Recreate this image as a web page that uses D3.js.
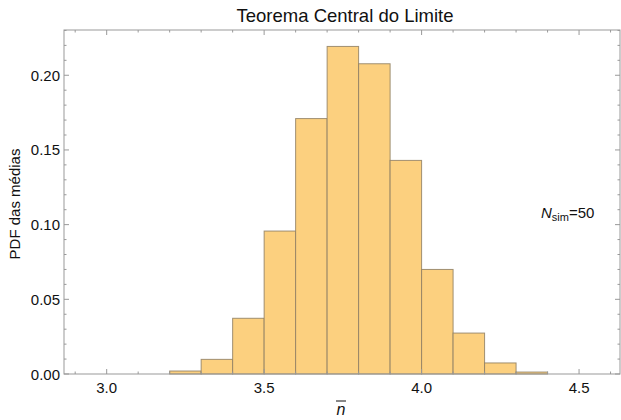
<!DOCTYPE html>
<html lang="en">
<head>
<meta charset="utf-8">
<title>Teorema Central do Limite</title>
<script src="https://cdn.jsdelivr.net/npm/d3@7"></script>
<style>
  body { margin: 0; background: #fff; }
  text { font-family: "Liberation Sans", Arial, sans-serif; fill: #111; }
</style>
</head>
<body>
<script>
// bin edges (left side), width 0.1
var binStart = [2.9, 3.0, 3.1, 3.2, 3.3, 3.4, 3.5, 3.6, 3.7, 3.8, 3.9, 4.0, 4.1, 4.2, 4.3, 4.4, 4.5];
var pdf = [0, 0, 0, 0.002, 0.0098, 0.0373, 0.0957, 0.171, 0.2193, 0.2077, 0.143, 0.070, 0.0274, 0.0074, 0.0013, 0, 0];
var binWidth = 0.1;
var xTicks = [3.0, 3.5, 4.0, 4.5];
var yTicks = [0, 0.05, 0.10, 0.15, 0.20];

var w = 621, h = 420;

drawChart();

function drawChart() {
  var mLeft = 64, mRight = 620, mTop = 30, mBottom = 374;

  var svg = d3.select("body").append("svg").attr("width", w).attr("height", h);

  var x = d3.scaleLinear().domain([2.8645, 4.63]).range([mLeft, mRight]);
  var y = d3.scaleLinear().domain([0, 0.2303]).range([mBottom, mTop]);

  // bars
  svg.selectAll("rect.bar").data(pdf).enter().append("rect")
    .attr("class", "bar")
    .attr("x", function(d, i) { return x(binStart[i]); })
    .attr("width", function(d, i) { return x(binStart[i] + binWidth) - x(binStart[i]); })
    .attr("y", function(d) { return y(d); })
    .attr("height", function(d) { return y(0) - y(d); })
    .attr("fill", "#fcd07f")
    .attr("stroke", "#8f7f63")
    .attr("stroke-opacity", 0.85)
    .attr("stroke-width", 1);

  // frame
  svg.append("rect")
    .attr("x", mLeft).attr("y", mTop)
    .attr("width", mRight - mLeft).attr("height", mBottom - mTop)
    .attr("fill", "none").attr("stroke", "#999").attr("stroke-width", 1);

  var tickColor = "#999";
  var xMinor = d3.range(29, 47).map(function(v) { return v / 10; });
  var yMinor = d3.range(0, 24).map(function(v) { return v / 100; });

  function isMajorX(v) { return Math.abs(v * 2 - Math.round(v * 2)) < 1e-6; }
  function isMajorY(v) { return Math.abs(v * 20 - Math.round(v * 20)) < 1e-6; }

  // x ticks (bottom and top, pointing in)
  xMinor.forEach(function(v) {
    var len = isMajorX(v) ? 5 : 2.5;
    svg.append("line").attr("x1", x(v)).attr("x2", x(v))
      .attr("y1", mBottom).attr("y2", mBottom - len).attr("stroke", tickColor);
    svg.append("line").attr("x1", x(v)).attr("x2", x(v))
      .attr("y1", mTop).attr("y2", mTop + len).attr("stroke", tickColor);
  });
  // y ticks (left and right)
  yMinor.forEach(function(v) {
    var len = isMajorY(v) ? 5 : 2.5;
    svg.append("line").attr("y1", y(v)).attr("y2", y(v))
      .attr("x1", mLeft).attr("x2", mLeft + len).attr("stroke", tickColor);
    svg.append("line").attr("y1", y(v)).attr("y2", y(v))
      .attr("x1", mRight).attr("x2", mRight - len).attr("stroke", tickColor);
  });

  // tick labels
  svg.selectAll("text.xt").data(xTicks).enter().append("text")
    .attr("class", "xt")
    .attr("x", function(d) { return x(d); })
    .attr("y", mBottom + 19)
    .attr("text-anchor", "middle")
    .attr("font-size", 15)
    .text(function(d) { return d3.format(".1f")(d); });

  svg.selectAll("text.yt").data(yTicks).enter().append("text")
    .attr("class", "yt")
    .attr("x", mLeft - 4)
    .attr("y", function(d) { return y(d) + 5.5; })
    .attr("text-anchor", "end")
    .attr("font-size", 15)
    .text(function(d) { return d3.format(".2f")(d); });

  // title
  svg.append("text").attr("x", 345).attr("y", 22)
    .attr("text-anchor", "middle").attr("font-size", 18.5)
    .text("Teorema Central do Limite");

  // y label
  svg.append("text")
    .attr("transform", "translate(20," + ((mTop + mBottom) / 2 + 2) + ") rotate(-90)")
    .attr("text-anchor", "middle").attr("font-size", 15)
    .text("PDF das médias");

  // x label: n with overbar
  svg.append("text").attr("x", 341).attr("y", 415)
    .attr("text-anchor", "middle").attr("font-size", 16)
    .attr("font-style", "italic").text("n");
  svg.append("line").attr("x1", 336).attr("x2", 346)
    .attr("y1", 401).attr("y2", 401).attr("stroke", "#111").attr("stroke-width", 1);

  // annotation N_sim=50
  var ann = svg.append("text").attr("x", 541).attr("y", 218).attr("font-size", 15);
  ann.append("tspan").attr("font-style", "italic").text("N");
  ann.append("tspan").attr("font-size", 11).attr("dy", 3).text("sim");
  ann.append("tspan").attr("dy", -3).text("=50");
}
</script>
</body>
</html>
